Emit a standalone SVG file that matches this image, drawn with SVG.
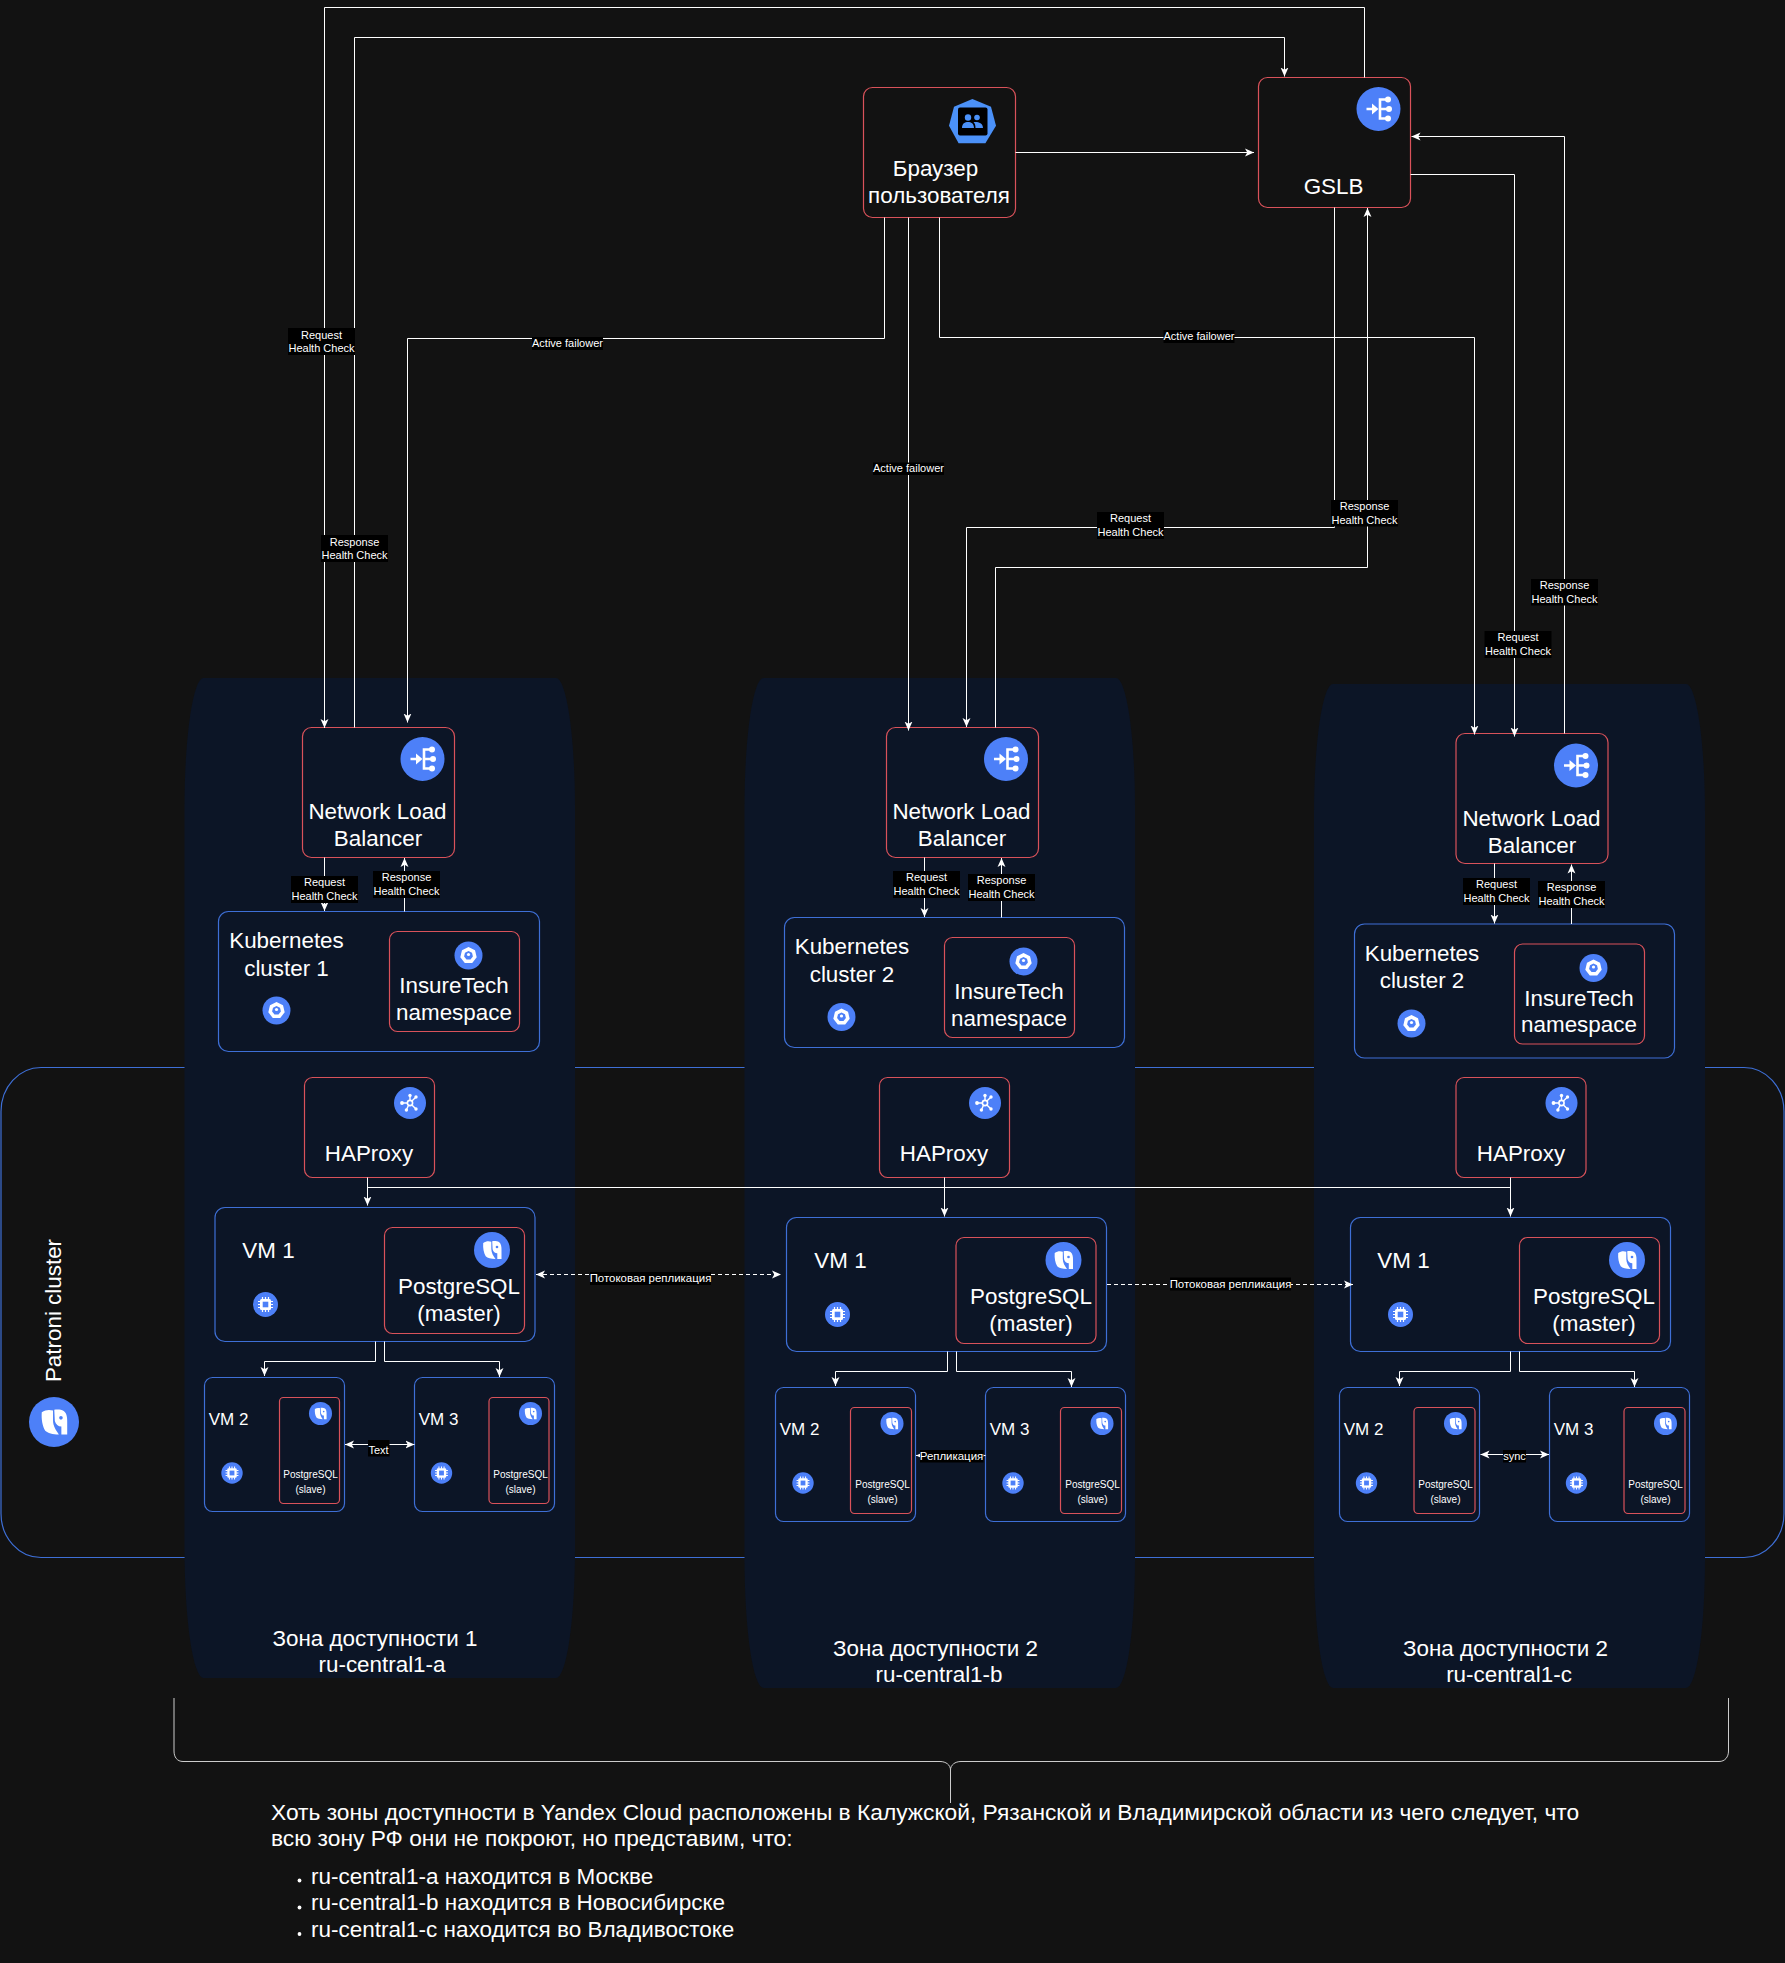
<svg xmlns="http://www.w3.org/2000/svg" width="1785" height="1963" viewBox="0 0 1785 1963">
<style>
text{font-family:"Liberation Sans",Arial,sans-serif;fill:#fff}
.t22{font-size:22.4px;text-anchor:middle}
.t18{font-size:17px;text-anchor:middle}
.t10{font-size:10px;text-anchor:middle}
.t11{font-size:11px;text-anchor:middle}
.t11r{font-size:11.45px;text-anchor:middle}
.tl{font-size:22.75px}
.tm{font-size:22.5px}
.red{fill:none;stroke:#d9525a;stroke-width:1.2}
.blue{fill:none;stroke:#3e6fd6;stroke-width:1.2}
.zone{fill:#0c1526}
.c{fill:none;stroke:#fff;stroke-width:1}
.a{marker-end:url(#arr)}
.d{stroke-dasharray:4 3}
.lb{fill:#000}
.w{fill:#fff}
.ws{fill:none;stroke:#fff;stroke-width:2.6}
.ib{fill:#4d80f8}
</style>
<defs>
<marker id="arr" viewBox="0 0 10 10" refX="10" refY="5" markerWidth="9" markerHeight="9" markerUnits="userSpaceOnUse" orient="auto-start-reverse"><path d="M0 0.6L10 5L0 9.4L2.5 5Z" fill="#fff"/></marker>
<g id="ilb"><circle class="ib" r="22"/><path class="ws" d="M-12 0H-3M10 -9.5H1.5V9.5H10M1.5 0H10"/><path class="w" d="M0 0L-6.5 -5.5V5.5Z"/><circle class="w" cx="9.5" cy="-9.5" r="3"/><circle class="w" cx="10.5" cy="0" r="3"/><circle class="w" cx="9.5" cy="9.5" r="3"/></g>
<g id="iha"><circle class="ib" r="16"/><circle r="2.6" fill="none" stroke="#fff" stroke-width="1.6"/><path fill="none" stroke="#fff" stroke-width="1.4" d="M0 -2.6V-7M-2.6 0H-7M1.9 -1.9L5.5 -5.5M1.9 1.9L5.5 5.5M-1.5 2.2L-3.4 6.5"/><circle class="w" cx="0" cy="-7.5" r="1.7"/><circle class="w" cx="-8" cy="0" r="1.9"/><circle class="w" cx="6" cy="-6" r="1.7"/><circle class="w" cx="6" cy="6" r="1.7"/><circle class="w" cx="-3.6" cy="7" r="1.7"/></g>
<g id="ik8"><circle class="ib" r="14"/><path class="w" d="M0 -8.5L6.5 -5.3L8.2 1.8L3.7 7.5H-3.7L-8.2 1.8L-6.5 -5.3Z"/><path class="ib" d="M0 -4.5L3.5 -2.8L4.4 1L2 4H-2L-4.4 1L-3.5 -2.8Z"/><circle class="w" cx="0" cy="-1" r="1.6"/></g>
<g id="icp"><circle class="ib" r="12.5"/><rect class="w" x="-5.5" y="-5.5" width="11" height="11" rx="1.5"/><rect class="ib" x="-2.8" y="-2.8" width="5.6" height="5.6"/><path fill="none" stroke="#fff" stroke-width="1.2" d="M-3 -7.5V-5M0 -7.5V-5M3 -7.5V-5M-3 5V7.5M0 5V7.5M3 5V7.5M-7.5 -3H-5M-7.5 0H-5M-7.5 3H-5M5 -3H7.5M5 0H7.5M5 3H7.5"/></g>
<g id="ipg"><circle class="ib" r="18"/><path class="w" d="M-8.8 -7C-6 -9 -3 -9 -0.7 -8.2V-1C-0.7 3 1.5 6 3.5 9C-1 9 -4.5 8 -6.3 6.3C-8.3 3 -9.2 -2 -8.8 -7Z"/><path class="w" d="M0.2 -8.8C2 -9.2 5 -9.2 7 -8C9.2 -6.5 9.6 -3 9.5 0V9H5.3V3.2C3 3.2 1.2 1.7 0.6 -0.8Z"/><circle class="ib" cx="5" cy="-3" r="1.3"/></g>
</defs>
<rect id="background" width="1785" height="1963" fill="#121212"/>
<g id="patroni-cluster">
<rect class="blue" x="1" y="1067.5" width="1783" height="490" rx="40" ry="44"/>
<text class="t22" transform="translate(61 1310.5) rotate(-90)">Patroni cluster</text>
<use href="#ipg" transform="translate(54 1422) scale(1.39)"/>
</g>
<g id="zone-1"><path class="zone" d="M203.5 678H556A19 130 0 0 1 575 808V1548A19 130 0 0 1 556 1678H203.5A19 130 0 0 1 184.5 1548V808A19 130 0 0 1 203.5 678Z"/>
<text class="t22" x="375" y="1645.5">Зона доступности 1</text><text class="t22" x="382" y="1672">ru-central1-a</text></g>
<g id="zone-2"><path class="zone" d="M763.5 678H1116A19 130 0 0 1 1135 808V1558A19 130 0 0 1 1116 1688H763.5A19 130 0 0 1 744.5 1558V808A19 130 0 0 1 763.5 678Z"/>
<text class="t22" x="935.5" y="1655.5">Зона доступности 2</text><text class="t22" x="939" y="1682">ru-central1-b</text></g>
<g id="zone-3"><path class="zone" d="M1333 684H1686A19 130 0 0 1 1705 814V1558A19 130 0 0 1 1686 1688H1333A19 130 0 0 1 1314 1558V814A19 130 0 0 1 1333 684Z"/>
<text class="t22" x="1505.5" y="1655.5">Зона доступности 2</text><text class="t22" x="1509" y="1682">ru-central1-c</text></g>

<g id="browser"><rect class="red" x="863.5" y="87.5" width="152" height="130" rx="9"/>
<path fill="#4b91f8" d="M972.4 99L991 106.7L996 125.7L985.4 143.3H958.6L949 125.7L954 106.7Z"/>
<rect x="958" y="107.5" width="29.5" height="28" rx="2" fill="#000"/>
<circle cx="968" cy="117.5" r="3.2" fill="#4b91f8"/><circle cx="977" cy="117.5" r="2.8" fill="#4b91f8"/>
<path fill="#4b91f8" d="M962 128C962 123.5 965 122 968 122C971 122 974 123.5 974 128ZM975.5 128C975.5 125.5 975 123.5 973.5 122.3C976 121.5 983 122 983 128Z"/>
<text class="t22" x="935.5" y="175.5">Браузер</text><text class="t22" x="939" y="203">пользователя</text></g>
<g id="gslb"><rect class="red" x="1258.5" y="77.5" width="152" height="130" rx="9"/><use href="#ilb" x="1378.5" y="109"/><text class="t22" x="1333.5" y="193.5">GSLB</text></g>

<g id="nlb-1"><rect class="red" x="302.5" y="727.5" width="152" height="130" rx="9"/><use href="#ilb" x="422.5" y="759"/><text class="t22" x="377.5" y="819">Network Load</text><text class="t22" x="378" y="846">Balancer</text></g>
<g id="nlb-2"><rect class="red" x="886.5" y="727.5" width="152" height="130" rx="9"/><use href="#ilb" x="1006" y="759"/><text class="t22" x="961.5" y="819">Network Load</text><text class="t22" x="962" y="846">Balancer</text></g>
<g id="nlb-3"><rect class="red" x="1456" y="733.5" width="152" height="130" rx="9"/><use href="#ilb" x="1576" y="765.5"/><text class="t22" x="1531.5" y="826">Network Load</text><text class="t22" x="1532" y="852.5">Balancer</text></g>

<g id="k8s-1"><rect class="blue" x="218.5" y="911.5" width="321" height="140" rx="10"/><text class="t22" x="286.5" y="948">Kubernetes</text><text class="t22" x="286.5" y="975.5">cluster 1</text><use href="#ik8" x="276.5" y="1010.5"/></g>
<g id="ns-1"><rect class="red" x="389.5" y="931.5" width="130" height="100" rx="8"/><use href="#ik8" x="468.5" y="955.5"/><text class="t22" x="454" y="993">InsureTech</text><text class="t22" x="454" y="1019.5">namespace</text></g>
<g id="k8s-2"><rect class="blue" x="784.5" y="917.5" width="340" height="130" rx="10"/><text class="t22" x="852" y="954">Kubernetes</text><text class="t22" x="852" y="981.5">cluster 2</text><use href="#ik8" x="841.5" y="1017"/></g>
<g id="ns-2"><rect class="red" x="944.5" y="937.5" width="130" height="100" rx="8"/><use href="#ik8" x="1023.5" y="961.5"/><text class="t22" x="1009" y="999">InsureTech</text><text class="t22" x="1009" y="1025.5">namespace</text></g>
<g id="k8s-3"><rect class="blue" x="1354.5" y="924" width="320" height="134" rx="10"/><text class="t22" x="1422" y="960.5">Kubernetes</text><text class="t22" x="1422" y="988">cluster 2</text><use href="#ik8" x="1411.5" y="1023.5"/></g>
<g id="ns-3"><rect class="red" x="1514.5" y="944" width="130" height="100" rx="8"/><use href="#ik8" x="1593.5" y="968"/><text class="t22" x="1579" y="1005.5">InsureTech</text><text class="t22" x="1579" y="1032">namespace</text></g>

<g id="haproxy-1"><rect class="red" x="304.5" y="1077.5" width="130" height="100" rx="8"/><use href="#iha" x="410" y="1103"/><text class="t22" x="369" y="1160.5">HAProxy</text></g>
<g id="haproxy-2"><rect class="red" x="879.5" y="1077.5" width="130" height="100" rx="8"/><use href="#iha" x="985" y="1103"/><text class="t22" x="944" y="1160.5">HAProxy</text></g>
<g id="haproxy-3"><rect class="red" x="1456" y="1077.5" width="130" height="100" rx="8"/><use href="#iha" x="1561.5" y="1103"/><text class="t22" x="1521" y="1160.5">HAProxy</text></g>

<g id="vm1-a"><rect class="blue" x="215" y="1207.5" width="320" height="134" rx="10"/><text class="t22" x="268.5" y="1257.5">VM 1</text><use href="#icp" x="265.5" y="1304.5"/></g>
<g id="pg-master-a"><rect class="red" x="384.5" y="1227.5" width="140" height="106" rx="8"/><use href="#ipg" x="492" y="1250"/><text class="t22" x="459" y="1293.5">PostgreSQL</text><text class="t22" x="459" y="1320.5">(master)</text></g>
<g id="vm2-a"><rect class="blue" x="204.5" y="1377.5" width="140" height="134" rx="8"/><text class="t18" x="228.5" y="1425">VM 2</text><use href="#icp" transform="translate(232 1473) scale(.856)"/></g>
<g id="pg-slave-a2"><rect class="red" x="279.5" y="1397.5" width="60" height="106" rx="4"/><use href="#ipg" transform="translate(320.5 1413.5) scale(.64)"/><text class="t10" x="310.5" y="1477.5">PostgreSQL</text><text class="t10" x="310.5" y="1492.5">(slave)</text></g>
<g id="vm3-a"><rect class="blue" x="414.5" y="1377.5" width="140" height="134" rx="8"/><text class="t18" x="438.5" y="1425">VM 3</text><use href="#icp" transform="translate(441.5 1473) scale(.856)"/></g>
<g id="pg-slave-a3"><rect class="red" x="489" y="1397.5" width="60" height="106" rx="4"/><use href="#ipg" transform="translate(530.5 1413.5) scale(.64)"/><text class="t10" x="520.5" y="1477.5">PostgreSQL</text><text class="t10" x="520.5" y="1492.5">(slave)</text></g>

<g id="vm1-b"><rect class="blue" x="786.5" y="1217.5" width="320" height="134" rx="10"/><text class="t22" x="840.5" y="1267.5">VM 1</text><use href="#icp" x="837.5" y="1314.5"/></g>
<g id="pg-master-b"><rect class="red" x="956" y="1237.5" width="140" height="106" rx="8"/><use href="#ipg" x="1063.5" y="1260"/><text class="t22" x="1031" y="1303.5">PostgreSQL</text><text class="t22" x="1031" y="1330.5">(master)</text></g>
<g id="vm2-b"><rect class="blue" x="775.5" y="1387.5" width="140" height="134" rx="8"/><text class="t18" x="799.5" y="1435">VM 2</text><use href="#icp" transform="translate(803 1483) scale(.856)"/></g>
<g id="pg-slave-b2"><rect class="red" x="850.5" y="1407.5" width="61" height="106" rx="4"/><use href="#ipg" transform="translate(892 1423.5) scale(.64)"/><text class="t10" x="882.5" y="1487.5">PostgreSQL</text><text class="t10" x="882.5" y="1502.5">(slave)</text></g>
<g id="vm3-b"><rect class="blue" x="985.5" y="1387.5" width="140" height="134" rx="8"/><text class="t18" x="1009.5" y="1435">VM 3</text><use href="#icp" transform="translate(1013 1483) scale(.856)"/></g>
<g id="pg-slave-b3"><rect class="red" x="1060.5" y="1407.5" width="61" height="106" rx="4"/><use href="#ipg" transform="translate(1102 1423.5) scale(.64)"/><text class="t10" x="1092.5" y="1487.5">PostgreSQL</text><text class="t10" x="1092.5" y="1502.5">(slave)</text></g>

<g id="vm1-c"><rect class="blue" x="1350.5" y="1217.5" width="320" height="134" rx="10"/><text class="t22" x="1403.5" y="1267.5">VM 1</text><use href="#icp" x="1400.5" y="1314.5"/></g>
<g id="pg-master-c"><rect class="red" x="1519.5" y="1237.5" width="140" height="106" rx="8"/><use href="#ipg" x="1627" y="1260"/><text class="t22" x="1594" y="1303.5">PostgreSQL</text><text class="t22" x="1594" y="1330.5">(master)</text></g>
<g id="vm2-c"><rect class="blue" x="1339.5" y="1387.5" width="140" height="134" rx="8"/><text class="t18" x="1363.5" y="1435">VM 2</text><use href="#icp" transform="translate(1366.5 1483) scale(.856)"/></g>
<g id="pg-slave-c2"><rect class="red" x="1414" y="1407.5" width="61" height="106" rx="4"/><use href="#ipg" transform="translate(1455.5 1423.5) scale(.64)"/><text class="t10" x="1445.5" y="1487.5">PostgreSQL</text><text class="t10" x="1445.5" y="1502.5">(slave)</text></g>
<g id="vm3-c"><rect class="blue" x="1549.5" y="1387.5" width="140" height="134" rx="8"/><text class="t18" x="1573.5" y="1435">VM 3</text><use href="#icp" transform="translate(1576.5 1483) scale(.856)"/></g>
<g id="pg-slave-c3"><rect class="red" x="1624" y="1407.5" width="61" height="106" rx="4"/><use href="#ipg" transform="translate(1665.5 1423.5) scale(.64)"/><text class="t10" x="1655.5" y="1487.5">PostgreSQL</text><text class="t10" x="1655.5" y="1502.5">(slave)</text></g>

<g id="connectors">
<path class="c a" d="M1015.5 152.5H1254"/>
<path class="c a" d="M1364.5 77.5V7.5H324.5V728"/>
<path class="c a" d="M354.5 727.5V37.5H1284.5V76.5"/>
<path class="c a" d="M884.5 217.5V338.5H407.5V722.5"/>
<path class="c a" d="M908.5 217.5V730.5"/>
<path class="c a" d="M939.5 217.5V337.5H1474.5V734.5"/>
<path class="c a" d="M1334.5 207.5V527.5H966.5V727"/>
<path class="c a" d="M995.5 727.5V567.5H1367.5V208"/>
<path class="c a" d="M1410.5 174.5H1514.5V736.5"/>
<path class="c a" d="M1564.5 733.5V136.5H1411.5"/>
<path class="c a" d="M324.5 857.5V911"/>
<path class="c a" d="M404.5 911.5V858"/>
<path class="c a" d="M924.5 857.5V917"/>
<path class="c a" d="M1001.5 917.5V858"/>
<path class="c a" d="M1494.5 863.5V923.5"/>
<path class="c a" d="M1571.5 924V864.5"/>
<path class="c" d="M367.5 1187.5H1510.5"/>
<path class="c a" d="M367.5 1177.5V1205.5"/>
<path class="c a" d="M944.5 1177.5V1216.5"/>
<path class="c a" d="M1510.5 1177.5V1216.5"/>
<path class="c a" d="M375.5 1341.5V1361.5H264.5V1376"/>
<path class="c a" d="M384.5 1341.5V1361.5H499.5V1377"/>
<path class="c a" d="M947.5 1351.5V1371.5H835.5V1386"/>
<path class="c a" d="M956.5 1351.5V1371.5H1071.5V1387"/>
<path class="c a" d="M1510.5 1351.5V1371.5H1399.5V1386"/>
<path class="c a" d="M1519.5 1351.5V1371.5H1634.5V1387"/>
<path class="c a d" style="marker-start:url(#arr)" d="M536 1274.5H781"/>
<path class="c a d" d="M1107 1284.5H1353"/>
<path class="c a" style="marker-start:url(#arr)" d="M345 1444.5H414.5"/>
<path class="c a" style="marker-start:url(#arr)" d="M916 1455.5H985.5"/>
<path class="c a" style="marker-start:url(#arr)" d="M1480.5 1454.5H1549"/>
<g id="edge-labels">
<rect class="lb" x="288" y="328" width="67" height="27"/><text class="t11" x="321.5" y="338.5">Request</text><text class="t11" x="321.5" y="352">Health Check</text>
<rect class="lb" x="321" y="535" width="67" height="27"/><text class="t11" x="354.5" y="545.5">Response</text><text class="t11" x="354.5" y="559">Health Check</text>
<rect class="lb" x="532" y="337" width="71" height="13"/><text class="t11" x="567.5" y="347">Active failower</text>
<rect class="lb" x="873" y="462.5" width="71" height="12.5"/><text class="t11" x="908.5" y="472">Active failower</text>
<rect class="lb" x="1163.5" y="330" width="71" height="13"/><text class="t11" x="1199" y="340">Active failower</text>
<rect class="lb" x="1097" y="512" width="67" height="27"/><text class="t11" x="1130.5" y="522">Request</text><text class="t11" x="1130.5" y="535.5">Health Check</text>
<rect class="lb" x="1331" y="500" width="67" height="26.5"/><text class="t11" x="1364.5" y="510">Response</text><text class="t11" x="1364.5" y="524">Health Check</text>
<rect class="lb" x="1484.5" y="631" width="67" height="27"/><text class="t11" x="1518" y="641">Request</text><text class="t11" x="1518" y="655">Health Check</text>
<rect class="lb" x="1531" y="579" width="67" height="26.5"/><text class="t11" x="1564.5" y="589">Response</text><text class="t11" x="1564.5" y="602.5">Health Check</text>
<rect class="lb" x="291" y="876" width="67" height="27"/><text class="t11" x="324.5" y="886">Request</text><text class="t11" x="324.5" y="900">Health Check</text>
<rect class="lb" x="373" y="871" width="67" height="27"/><text class="t11" x="406.5" y="881">Response</text><text class="t11" x="406.5" y="895">Health Check</text>
<rect class="lb" x="893" y="871" width="67" height="27"/><text class="t11" x="926.5" y="881">Request</text><text class="t11" x="926.5" y="895">Health Check</text>
<rect class="lb" x="968" y="874" width="67" height="27"/><text class="t11" x="1001.5" y="884">Response</text><text class="t11" x="1001.5" y="898">Health Check</text>
<rect class="lb" x="1463" y="878" width="67" height="27"/><text class="t11" x="1496.5" y="888">Request</text><text class="t11" x="1496.5" y="902">Health Check</text>
<rect class="lb" x="1538" y="881" width="67" height="27"/><text class="t11" x="1571.5" y="891">Response</text><text class="t11" x="1571.5" y="905">Health Check</text>
<rect class="lb" x="590" y="1272" width="121" height="13"/><text class="t11r" x="650.5" y="1282">Потоковая репликация</text>
<rect class="lb" x="1170" y="1277.5" width="121" height="13"/><text class="t11r" x="1230.5" y="1288">Потоковая репликация</text>
<rect class="lb" x="368" y="1440" width="21.5" height="16.5"/><text class="t11" x="378.5" y="1453.5">Text</text>
<rect class="lb" x="920" y="1450" width="63.5" height="12.5"/><text class="t11r" x="951.5" y="1459.5">Репликация</text>
<rect class="lb" x="1503" y="1450" width="23" height="12.5"/><text class="t11" x="1514.5" y="1459.5">sync</text>
</g>
</g>
<g id="brace"><path fill="none" stroke="#ccc" stroke-width="1" d="M174 1698V1751C174 1757 177 1761.5 183 1761.5H940C946 1761.5 950.5 1765 950.5 1770C950.5 1765 955 1761.5 961 1761.5H1719C1725 1761.5 1728.5 1757 1728.5 1751V1698M950.5 1770V1803"/></g>
<g id="note">
<text class="tl" x="271" y="1819.5">Хоть зоны доступности в Yandex Cloud расположены в Калужской, Рязанской и Владимирской области из чего следует, что</text>
<text class="tl" x="271" y="1846">всю зону РФ они не покроют, но представим, что:</text>
<circle class="w" cx="299.5" cy="1880.5" r="1.9"/><text class="tm" x="311" y="1883.5">ru-central1-a находится в Москве</text>
<circle class="w" cx="299.5" cy="1907.5" r="1.9"/><text class="tm" x="311" y="1910">ru-central1-b находится в Новосибирске</text>
<circle class="w" cx="299.5" cy="1934" r="1.9"/><text class="tm" x="311" y="1936.5">ru-central1-c находится во Владивостоке</text>
</g>
</svg>
